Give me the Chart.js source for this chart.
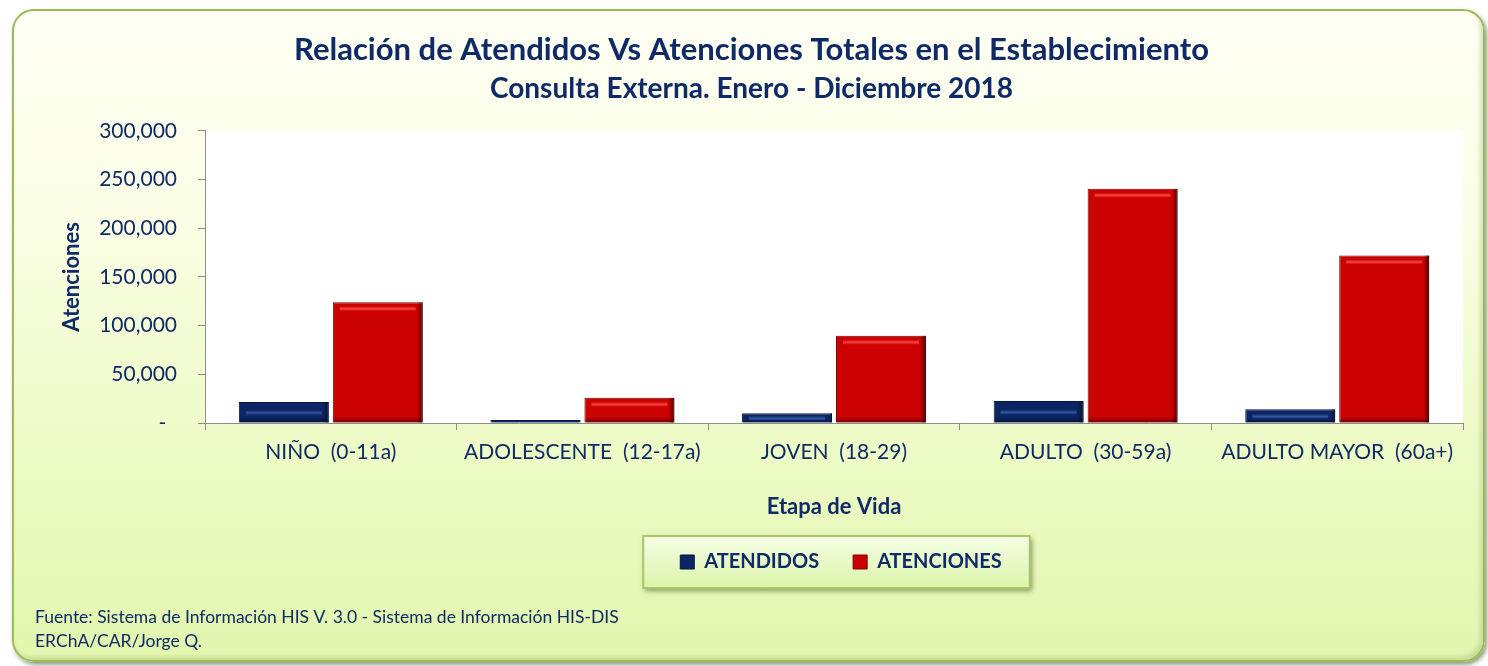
<!DOCTYPE html>
<html>
<head>
<meta charset="utf-8">
<script src="https://cdn.jsdelivr.net/npm/chart.js@4.4.1/dist/chart.umd.min.js"></script>
<style>
  html, body { margin: 0; padding: 0; background: #ffffff; }
  #wrap { position: relative; width: 1488px; height: 666px; overflow: hidden; }
  #panel {
    position: absolute; left: 12px; top: 9px; width: 1469px; height: 649px;
    border: 2px solid #9bbb59; border-radius: 22px;
    background: linear-gradient(to bottom, #fefff4 0%, #fbfee6 30%, #eefbc8 65%, #e2f6ae 100%);
    box-shadow: 2px 3px 4px rgba(60,80,20,0.55), inset -3px -3px 4px rgba(150,170,100,0.35);
  }
  #c { position: absolute; left: 0; top: 0; }
</style>
</head>
<body>
<div id="wrap">
  <div id="panel"></div>
  <canvas id="c" width="1488" height="666"></canvas>
</div>
<script>
const categories = ['NIÑO  (0-11a)', 'ADOLESCENTE  (12-17a)', 'JOVEN  (18-29)', 'ADULTO  (30-59a)', 'ADULTO MAYOR  (60a+)'];
const atendidos = [21500, 3000, 10000, 22500, 14000];
const atenciones = [124000, 25800, 89600, 240500, 172000];
const seriesNames = ['ATENDIDOS', 'ATENCIONES'];
const yTicks = [0, 50000, 100000, 150000, 200000, 250000, 300000];
const titleText = 'Relación de Atendidos Vs Atenciones Totales en el Establecimiento';
const subtitleText = 'Consulta Externa. Enero - Diciembre 2018';
const yTitle = 'Atenciones';
const xTitle = 'Etapa de Vida';
const footerLines = ['Fuente: Sistema de Información HIS V. 3.0 - Sistema de Información HIS-DIS', 'ERChA/CAR/Jorge Q.'];

const NAVY = '#0f2a66';
const FONT = 'Lato, "Open Sans", sans-serif';
const LEGEND_FONT = 20;
const LEGEND_PAD = 34;
const LEGEND_SHIFT = 7;

const plotBg = {
  id: 'plotBg',
  beforeDraw(chart) {
    const {ctx, chartArea: a} = chart;
    ctx.save();
    ctx.fillStyle = '#ffffff';
    ctx.fillRect(a.left, a.top, a.right - a.left, a.bottom - a.top);
    ctx.restore();
  }
};

const bevel = {
  id: 'bevel',
  afterDatasetsDraw(chart) {
    const ctx = chart.ctx;
    chart.data.datasets.forEach((ds, di) => {
      const meta = chart.getDatasetMeta(di);
      meta.data.forEach(bar => {
        const l = bar.x - bar.width / 2, r = bar.x + bar.width / 2;
        const t = bar.y, b = bar.base, h = b - t;
        if (h < 2) return;
        ctx.save();
        const e = Math.min(6, h / 3);
        let g = ctx.createLinearGradient(r - e, 0, r, 0);
        g.addColorStop(0, 'rgba(0,0,0,0)');
        g.addColorStop(1, 'rgba(0,0,0,0.55)');
        ctx.fillStyle = g;
        ctx.fillRect(r - e, t, e, h);
        g = ctx.createLinearGradient(0, b - e, 0, b);
        g.addColorStop(0, 'rgba(0,0,0,0)');
        g.addColorStop(1, 'rgba(0,0,0,0.4)');
        ctx.fillStyle = g;
        ctx.fillRect(l + 1, b - e, r - l - 2, e);
        if (h > 8) {
          const hy = di === 1 ? t + Math.min(6, h / 4) : t + h / 2;
          g = ctx.createLinearGradient(0, hy - 2, 0, hy + 3);
          const hl = di === 1 ? '255,80,80' : '60,95,170';
          g.addColorStop(0, 'rgba(' + hl + ',0)');
          g.addColorStop(0.5, 'rgba(' + hl + ',0.85)');
          g.addColorStop(1, 'rgba(' + hl + ',0)');
          ctx.fillStyle = g;
          ctx.fillRect(l + 7, hy - 2, r - l - 14, 5);
        }
        ctx.restore();
      });
    });
  }
};

const legendPlace = {
  id: 'legendPlace',
  afterLayout(chart) {
    const lg = chart.legend;
    if (!lg) return;
    lg.left = chart.chartArea.left + LEGEND_SHIFT;
    lg.right = chart.chartArea.right + LEGEND_SHIFT;
  },
  beforeDraw(chart) {
    const lg = chart.legend;
    if (!lg || !lg.lineWidths) return;
    const lw = lg.lineWidths[0];
    const startX = (lg.left + LEGEND_PAD + lg.right - lw) / 2;
    const cy = lg.top + LEGEND_PAD + LEGEND_FONT / 2;
    const x0 = startX - 37, x1 = startX + lw - LEGEND_PAD + 28;
    const y0 = cy - 26, y1 = cy + 26;
    const ctx = chart.ctx;
    ctx.save();
    ctx.shadowColor = 'rgba(60,70,30,0.55)';
    ctx.shadowBlur = 5;
    ctx.shadowOffsetX = 2;
    ctx.shadowOffsetY = 3;
    const g = ctx.createLinearGradient(0, y0, 0, y1);
    g.addColorStop(0, '#f6fde6');
    g.addColorStop(1, '#dcf4aa');
    ctx.fillStyle = g;
    ctx.fillRect(x0, y0, x1 - x0, y1 - y0);
    ctx.shadowColor = 'transparent';
    ctx.strokeStyle = '#a9c66a';
    ctx.lineWidth = 2;
    ctx.strokeRect(x0, y0, x1 - x0, y1 - y0);
    ctx.restore();
  }
};

const footer = {
  id: 'footer',
  afterDraw(chart) {
    const ctx = chart.ctx;
    ctx.save();
    ctx.fillStyle = NAVY;
    ctx.font = '17.5px ' + FONT;
    ctx.textBaseline = 'middle';
    ctx.textAlign = 'left';
    ctx.fillText(footerLines[0], 35, 617);
    ctx.fillText(footerLines[1], 35, 641);
    ctx.restore();
  }
};

new Chart(document.getElementById('c'), {
  type: 'bar',
  data: {
    labels: categories,
    datasets: [
      { label: seriesNames[0], data: atendidos, backgroundColor: '#0b2565', borderColor: '#06163f', borderWidth: 1 },
      { label: seriesNames[1], data: atenciones, backgroundColor: '#cc0202', borderColor: '#7a0000', borderWidth: 1 }
    ]
  },
  options: {
    responsive: false,
    animation: false,
    devicePixelRatio: 1,
    layout: { padding: { left: 40, right: 25, top: 0, bottom: 84 } },
    datasets: { bar: { categoryPercentage: 0.747, barPercentage: 0.957 } },
    plugins: {
      title: {
        display: true, text: titleText, color: NAVY,
        font: { family: FONT, size: 31, weight: 'bold', lineHeight: 1.2 },
        padding: { top: 31, bottom: 2 }
      },
      subtitle: {
        display: true, text: subtitleText, color: NAVY,
        font: { family: FONT, size: 28, weight: 'bold', lineHeight: 1.2 },
        padding: { top: 2, bottom: 25 }
      },
      legend: {
        position: 'bottom',
        labels: {
          color: NAVY,
          font: { family: FONT, size: LEGEND_FONT, weight: 'bold' },
          boxWidth: 14, boxHeight: 14, padding: LEGEND_PAD,
          generateLabels(chart) {
            return chart.data.datasets.map((ds, i) => ({
              text: ds.label, fillStyle: ds.backgroundColor, strokeStyle: ds.borderColor,
              lineWidth: 1, datasetIndex: i, hidden: false, fontColor: NAVY
            }));
          }
        }
      },
      tooltip: { enabled: false }
    },
    scales: {
      x: {
        grid: { display: true, drawOnChartArea: false, drawTicks: true, tickLength: 7, color: '#8c8c8c', offset: true },
        border: { display: true, color: '#8c8c8c', width: 1 },
        ticks: { color: NAVY, font: { family: FONT, size: 21 }, padding: 10, maxRotation: 0, autoSkip: false },
        title: { display: true, text: xTitle, color: NAVY, font: { family: FONT, size: 22, weight: 'bold' }, padding: { top: 4, bottom: -2 } },
        afterFit(scale) { scale.height = 95; }
      },
      y: {
        min: 0, max: 300000,
        afterBuildTicks(scale) { scale.ticks = yTicks.map(v => ({ value: v })); },
        grid: { display: true, drawOnChartArea: false, drawTicks: true, tickLength: 7, color: '#8c8c8c' },
        border: { display: true, color: '#8c8c8c', width: 1 },
        ticks: {
          color: NAVY, font: { family: FONT, size: 21 }, padding: 21,
          callback: v => v === 0 ? '-  ' : v.toLocaleString('en-US')
        },
        title: { display: true, text: yTitle, color: NAVY, font: { family: FONT, size: 22, weight: 'bold' }, padding: { top: 19, bottom: 0 } },
        afterFit(scale) { scale.width = 165; }
      }
    }
  },
  plugins: [plotBg, legendPlace, bevel, footer]
});
</script>
</body>
</html>
